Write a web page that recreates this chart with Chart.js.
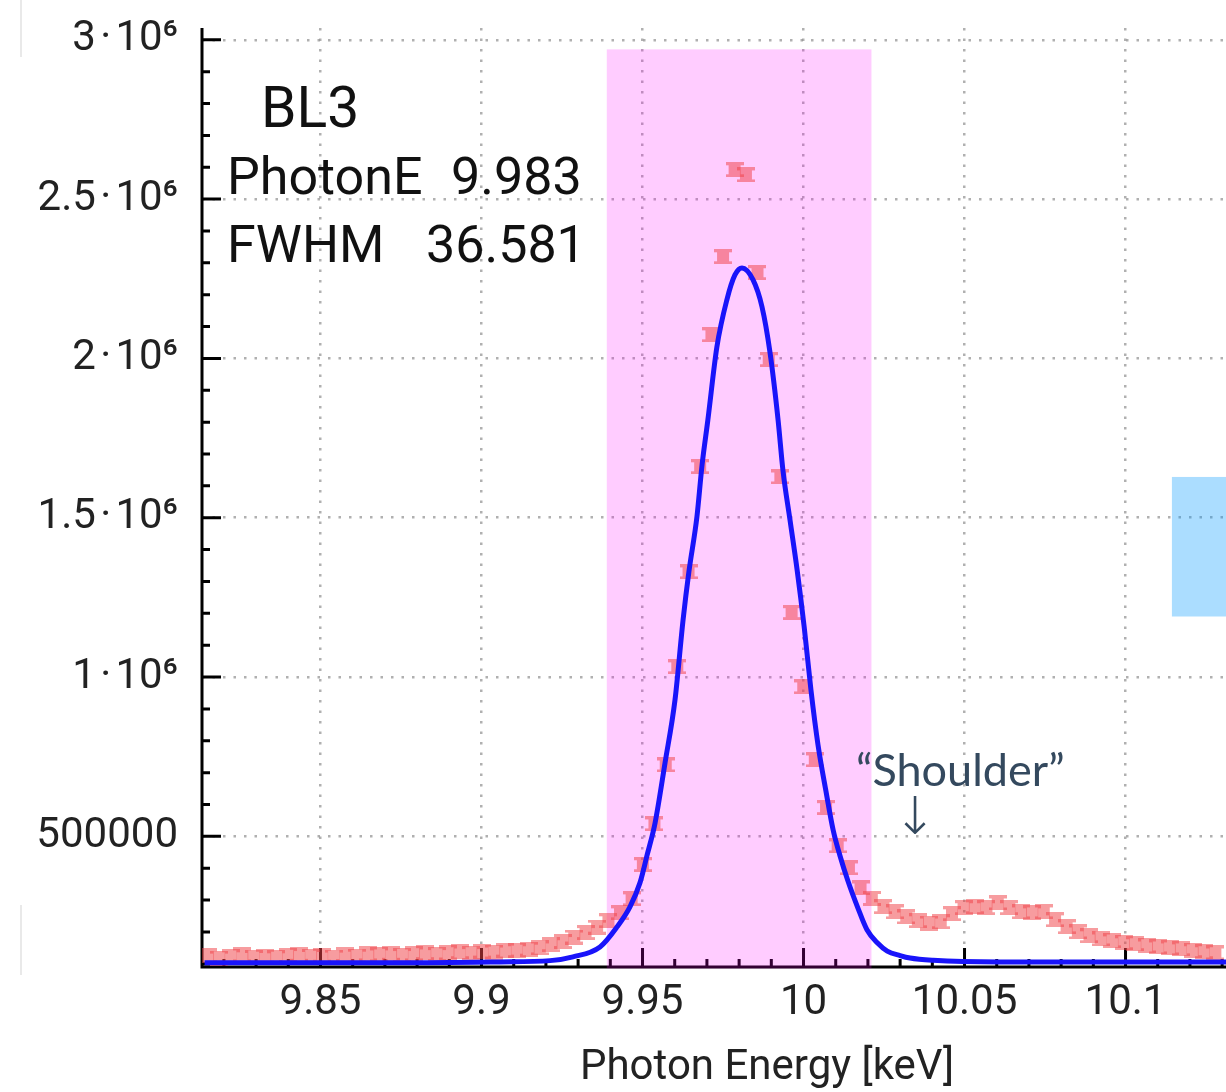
<!DOCTYPE html>
<html>
<head>
<meta charset="utf-8">
<script src="https://cdn.jsdelivr.net/npm/chart.js@4.4.0/dist/chart.umd.min.js"></script>
<style>
  html, body { margin: 0; padding: 0; background: #fff; overflow: hidden; }
  #wrap { width: 1226px; height: 1092px; position: relative; }
</style>
</head>
<body>
<div id="wrap"><canvas id="spectrum"></canvas></div>
<script>
// measured spectrum, photon energy [keV] and counts
const energy = [
  9.8150, 9.8185, 9.8221, 9.8257, 9.8292, 9.8328, 9.8363, 9.8399, 9.8434, 9.8470,
  9.8505, 9.8541, 9.8577, 9.8612, 9.8648, 9.8683, 9.8719, 9.8754, 9.8790, 9.8825,
  9.8861, 9.8897, 9.8932, 9.8968, 9.9003, 9.9039, 9.9074, 9.9110, 9.9146, 9.9181,
  9.9217, 9.9252, 9.9288, 9.9323, 9.9359, 9.9394, 9.9430, 9.9466, 9.9501, 9.9537,
  9.9572, 9.9608, 9.9643, 9.9679, 9.9714, 9.9750, 9.9786, 9.9821, 9.9857, 9.9892,
  9.9928, 9.9963, 9.9999, 10.0035, 10.0070, 10.0106, 10.0141, 10.0177, 10.0212, 10.0248,
  10.0283, 10.0319, 10.0355, 10.0390, 10.0426, 10.0461, 10.0497, 10.0532, 10.0568, 10.0603,
  10.0639, 10.0675, 10.0710, 10.0746, 10.0781, 10.0817, 10.0852, 10.0888, 10.0923, 10.0959,
  10.0995, 10.1030, 10.1066, 10.1101, 10.1137, 10.1172, 10.1208, 10.1243, 10.1279
];
const counts = [
  125000, 118000, 122000, 128000, 120000, 124000, 119000, 126000, 130000, 123000,
  127000, 121000, 129000, 124000, 131000, 128000, 133000, 126000, 131000, 135000,
  129000, 134000, 138000, 132000, 140000, 137000, 143000, 141000, 146000, 150000,
  160000, 170000, 184000, 198000, 215000, 235000, 260000, 304000, 411000, 539000,
  724000, 1032000, 1330000, 1660000, 2074000, 2319000, 2592000, 2576000, 2269000, 1996000,
  1628000, 1202000, 969000, 740000, 590000, 470000, 401000, 338000, 305000, 279000,
  263000, 247000, 235000, 228000, 232000, 257000, 276000, 279000, 276000, 291000,
  276000, 263000, 260000, 263000, 238000, 216000, 200000, 188000, 178000, 172000,
  166000, 163000, 156000, 153000, 150000, 147000, 141000, 138000, 134000
];

// fitted peak curve
const fitEnergy = [
  9.8140, 9.8747, 9.9057, 9.9213, 9.9284, 9.9368, 9.9421, 9.9461, 9.9492, 9.9514,
  9.9539, 9.9570, 9.9601, 9.9626, 9.9644, 9.9669, 9.9685, 9.9703, 9.9731, 9.9762,
  9.9787, 9.9809, 9.9843, 9.9871, 9.9896, 9.9921, 9.9936, 9.9958, 9.9980, 10.0002,
  10.0023, 10.0045, 10.0070, 10.0092, 10.0113, 10.0138, 10.0169, 10.0197, 10.0229, 10.0260,
  10.0300, 10.0331, 10.0402, 10.0611, 10.1312
];
const fitCounts = [
  103000, 103000, 106000, 110000, 122000, 153000, 216000, 279000, 354000, 440000,
  542000, 731000, 929000, 1180000, 1330000, 1503000, 1666000, 1807000, 2036000, 2184000,
  2262000, 2284000, 2247000, 2162000, 2018000, 1807000, 1650000, 1493000, 1337000, 1158000,
  960000, 787000, 640000, 520000, 440000, 360000, 275000, 207000, 166000, 140000,
  126000, 118000, 111000, 106000, 106000
];

const xTickValues = [9.85, 9.9, 9.95, 10, 10.05, 10.1];
const xTickLabels = ['9.85', '9.9', '9.95', '10', '10.05', '10.1'];
const yTickValues = [500000, 1000000, 1500000, 2000000, 2500000, 3000000];
const yTickLabels = ['500000', '1\u200A·\u200A10⁶', '1.5\u200A·\u200A10⁶', '2\u200A·\u200A10⁶', '2.5\u200A·\u200A10⁶', '3\u200A·\u200A10⁶'];

// region of interest and fit results
const roiRange = [9.9389, 10.0211];
const roiTop = 2970000;
const boxRange = [10.1144, 1190000, 1628000];
const beamline = 'BL3';
const photonE = '9.983';
const fwhm = '36.581';

const isMajorX = v => xTickValues.some(m => Math.abs(m - v) < 1e-6);
const isMajorY = v => yTickValues.some(m => Math.abs(m - v) < 1);

// error-bar style marker
function makeMarker() {
  const c = document.createElement('canvas');
  c.width = 18; c.height = 15;
  const g = c.getContext('2d');
  g.fillStyle = 'rgba(240,65,70,0.52)';
  g.fillRect(0, 0, 18, 3);
  g.fillRect(0, 12, 18, 3);
  g.fillRect(3, 3, 12, 9);
  return c;
}

function noPad(scale) {
  scale.paddingTop = 0;
  scale.paddingBottom = 0;
  scale.paddingLeft = 0;
  scale.paddingRight = 0;
}

const overlays = {
  id: 'overlays',
  beforeDraw(chart) {
    const ctx = chart.ctx;
    ctx.save();
    ctx.fillStyle = '#fff';
    ctx.fillRect(0, 0, chart.width, chart.height);
    ctx.strokeStyle = '#e2e2e2';
    ctx.lineWidth = 1.5;
    ctx.beginPath();
    ctx.moveTo(21, 0); ctx.lineTo(21, 57);
    ctx.moveTo(21, 905); ctx.lineTo(21, 975);
    ctx.stroke();
    ctx.restore();
  },
  beforeDatasetsDraw(chart) {
    const { ctx, chartArea: a, scales: { x, y } } = chart;
    ctx.save();
    // axes and tick marks
    ctx.strokeStyle = '#000';
    ctx.lineWidth = 3;
    ctx.beginPath();
    ctx.moveTo(a.left, a.top);
    ctx.lineTo(a.left, a.bottom);
    ctx.lineTo(a.right, a.bottom);
    x.ticks.forEach(t => {
      const px = x.getPixelForValue(t.value);
      ctx.moveTo(px, a.bottom);
      ctx.lineTo(px, a.bottom - (isMajorX(t.value) ? 19 : 8));
    });
    y.ticks.forEach(t => {
      const py = y.getPixelForValue(t.value);
      ctx.moveTo(a.left, py);
      ctx.lineTo(a.left + (isMajorY(t.value) ? 19 : 8), py);
    });
    ctx.stroke();

    // ROI band
    const x0 = x.getPixelForValue(roiRange[0]);
    const x1 = x.getPixelForValue(roiRange[1]);
    const yt = y.getPixelForValue(roiTop);
    ctx.fillStyle = 'rgba(255,0,255,0.2)';
    ctx.fillRect(x0, yt, x1 - x0, a.bottom + 1.5 - yt);

    // side box (cut off at the right edge)
    const bx = x.getPixelForValue(boxRange[0]);
    const by0 = y.getPixelForValue(boxRange[2]);
    const by1 = y.getPixelForValue(boxRange[1]);
    ctx.fillStyle = 'rgba(0,153,255,0.33)';
    ctx.fillRect(bx, by0, chart.width - bx, by1 - by0);
    ctx.restore();
  },
  afterDraw(chart) {
    const ctx = chart.ctx;
    ctx.save();
    // fit info
    ctx.fillStyle = '#111';
    ctx.textBaseline = 'alphabetic';
    ctx.textAlign = 'left';
    ctx.font = '57px Roboto';
    ctx.fillText(beamline, 261, 127);
    ctx.font = '52px Roboto';
    ctx.fillText('PhotonE', 227, 194);
    ctx.fillText(photonE, 451, 194);
    ctx.fillText('FWHM', 227, 262);
    ctx.fillText(fwhm, 426, 262);

    // annotation
    ctx.fillStyle = '#34495e';
    ctx.font = '45px Lato';
    ctx.fillText('“Shoulder”', 856, 786);
    ctx.textAlign = 'center';
    ctx.font = '200 52px "DejaVu Sans"';
    ctx.fillText('↓', 915, 834);

    // axis title
    ctx.fillStyle = '#222';
    ctx.font = '42px Roboto';
    ctx.textBaseline = 'middle';
    ctx.fillText('Photon Energy [keV]', 767, 1068);
    ctx.restore();
  }
};

const marker = makeMarker();

new Chart(document.getElementById('spectrum'), {
  type: 'scatter',
  data: {
    datasets: [
      {
        label: 'Fit',
        data: fitEnergy.map((e, i) => ({ x: e, y: fitCounts[i] })),
        showLine: true,
        borderColor: 'rgb(25,20,250)',
        borderWidth: 5,
        pointRadius: 0,
        cubicInterpolationMode: 'monotone'
      },
      {
        label: 'Data',
        data: energy.map((e, i) => ({ x: e, y: counts[i] })),
        showLine: false,
        pointStyle: marker,
        pointRadius: 8
      }
    ]
  },
  options: {
    responsive: true,
    maintainAspectRatio: false,
    animation: false,
    events: [],
    layout: { autoPadding: false, padding: { top: 28, right: 0, left: 0, bottom: 0 } },
    plugins: { legend: { display: false }, tooltip: { enabled: false } },
    scales: {
      x: {
        type: 'linear',
        min: 9.8132,
        max: 10.1312,
        afterBuildTicks(scale) {
          const t = [];
          for (let k = Math.ceil(scale.min * 100); k <= Math.floor(scale.max * 100); k++) t.push({ value: k / 100 });
          scale.ticks = t;
        },
        afterFit(scale) { scale.height = 125; noPad(scale); },
        ticks: {
          autoSkip: false,
          maxRotation: 0,
          padding: 11,
          color: '#222',
          font: { family: 'Roboto', size: 42 },
          callback(v) {
            const i = xTickValues.findIndex(m => Math.abs(m - v) < 1e-6);
            return i < 0 ? '' : xTickLabels[i];
          }
        },
        grid: {
          drawTicks: false,
          lineWidth: 2.5,
          color: c => (c.tick && isMajorX(c.tick.value)) ? 'rgba(150,150,150,0.75)' : 'rgba(0,0,0,0)'
        },
        border: { display: false, dash: [2.5, 8] }
      },
      y: {
        type: 'linear',
        min: 90000,
        max: 3037000,
        afterBuildTicks(scale) {
          const t = [];
          for (let k = 1; k <= 30; k++) t.push({ value: k * 100000 });
          scale.ticks = t;
        },
        afterFit(scale) { scale.width = 202; noPad(scale); },
        ticks: {
          autoSkip: false,
          padding: 24,
          color: '#222',
          font: { family: 'Roboto', size: 42 },
          callback(v) {
            const i = yTickValues.findIndex(m => Math.abs(m - v) < 1);
            return i < 0 ? '' : yTickLabels[i];
          }
        },
        grid: {
          drawTicks: false,
          lineWidth: 2.5,
          color: c => (c.tick && isMajorY(c.tick.value)) ? 'rgba(150,150,150,0.75)' : 'rgba(0,0,0,0)'
        },
        border: { display: false, dash: [2.5, 8] }
      }
    }
  },
  plugins: [overlays]
});
</script>
</body>
</html>
